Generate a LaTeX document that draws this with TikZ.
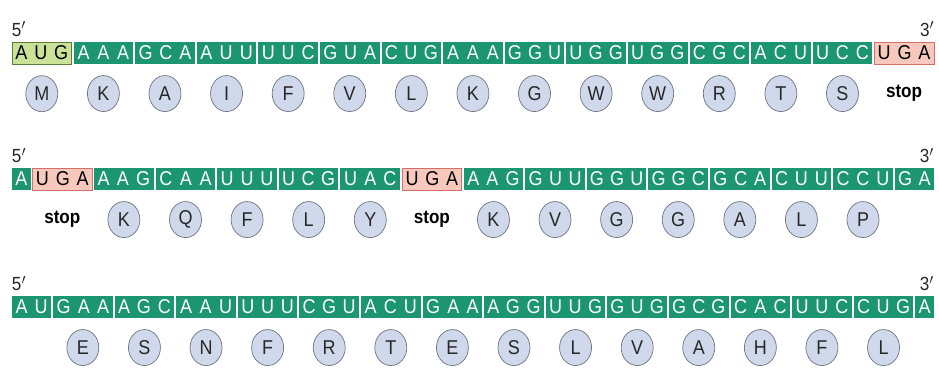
\documentclass[tikz,border=0pt]{standalone}
\usepackage{fontspec}
\setmainfont{Liberation Sans}[FakeStretch=0.9]
\usepackage{xcolor}
\usetikzlibrary{shapes.geometric,positioning}
\definecolor{codonGreen}{RGB}{28,150,112}
\definecolor{startGreen}{RGB}{202,225,152}
\definecolor{startEdge}{RGB}{96,124,58}
\definecolor{stopPink}{RGB}{246,201,188}
\definecolor{stopEdge}{RGB}{212,112,108}
\definecolor{aaBlue}{RGB}{207,217,235}
\definecolor{aaEdge}{RGB}{110,116,128}
\definecolor{aaText}{RGB}{40,40,40}

% one nucleotide inside a codon box
\newcommand\nt[1]{\hfil#1\hfil}
% pitch of one nucleotide and left edge of the strands
\newcommand\pitch{20.53}
\newcommand\xo{12}

\tikzset{
  greenbox/.style={fill=codonGreen, text=white, minimum height=22pt, inner sep=0pt,
    font=\fontsize{20}{20}\selectfont},
  startbox/.style={greenbox, fill=startGreen, draw=startEdge, line width=0.7pt, text=black},
  stopbox/.style={greenbox, fill=stopPink, draw=stopEdge, line width=0.7pt, text=black},
  amino/.style={ellipse, draw=aaEdge, line width=0.7pt, fill=aaBlue, text=aaText,
    minimum width=32pt, minimum height=36pt, inner sep=0pt,
    font=\fontsize{20}{20}\selectfont, below=11pt of #1},
  stoplabel/.style={font=\fontsize{19}{19}\selectfont\bfseries, text=black, inner sep=0pt},
  primelabel/.style={font=\fontsize{19}{19}\selectfont, text=black!85, inner sep=0pt}
}

\begin{document}
\begin{tikzpicture}[x=1pt,y=-1pt]
    \useasboundingbox (0,0) rectangle (939,385);

    % row 1: reading frame from AUG
    \foreach \s/\n/\bx/\seq [count=\i] in {
        0/3/startbox/{\nt A\nt U\nt G}, 3/3/greenbox/{\nt A\nt A\nt A},
        6/3/greenbox/{\nt G\nt C\nt A}, 9/3/greenbox/{\nt A\nt U\nt U},
        12/3/greenbox/{\nt U\nt U\nt C}, 15/3/greenbox/{\nt G\nt U\nt A},
        18/3/greenbox/{\nt C\nt U\nt G}, 21/3/greenbox/{\nt A\nt A\nt A},
        24/3/greenbox/{\nt G\nt G\nt U}, 27/3/greenbox/{\nt U\nt G\nt G},
        30/3/greenbox/{\nt U\nt G\nt G}, 33/3/greenbox/{\nt C\nt G\nt C},
        36/3/greenbox/{\nt A\nt C\nt U}, 39/3/greenbox/{\nt U\nt C\nt C},
        42/3/stopbox/{\nt U\nt G\nt A}} {
      \pgfmathsetmacro{\w}{\n*\pitch-2}
      \node[\bx, minimum width=\w pt] (r1b\i) at ({\xo+\s*\pitch+\w/2},53) {\hbox to \w pt{\seq}};
    }
    \foreach \i/\aa in {1/M,2/K,3/A,4/I,5/F,6/V,7/L,8/K,9/G,10/W,11/W,12/R,13/T,14/S}
      \node[amino=r1b\i] (r1a\i) {\aa};
    \node[stoplabel] (r1stop) at (r1a1 -| r1b15) {stop};
    \node[primelabel, anchor=south west] (r1five) at ([yshift=5pt]r1b1.north west) {5$'$};
    \node[primelabel, anchor=south east] (r1three) at ([yshift=5pt]r1b15.north east) {3$'$};

    % row 2: frame shifted by one
    \foreach \s/\n/\bx/\seq [count=\i] in {
        0/1/greenbox/{\nt A}, 1/3/stopbox/{\nt U\nt G\nt A},
        4/3/greenbox/{\nt A\nt A\nt G}, 7/3/greenbox/{\nt C\nt A\nt A},
        10/3/greenbox/{\nt U\nt U\nt U}, 13/3/greenbox/{\nt U\nt C\nt G},
        16/3/greenbox/{\nt U\nt A\nt C}, 19/3/stopbox/{\nt U\nt G\nt A},
        22/3/greenbox/{\nt A\nt A\nt G}, 25/3/greenbox/{\nt G\nt U\nt U},
        28/3/greenbox/{\nt G\nt G\nt U}, 31/3/greenbox/{\nt G\nt G\nt C},
        34/3/greenbox/{\nt G\nt C\nt A}, 37/3/greenbox/{\nt C\nt U\nt U},
        40/3/greenbox/{\nt C\nt C\nt U}, 43/2/greenbox/{\nt G\nt A}} {
      \pgfmathsetmacro{\w}{\n*\pitch-2}
      \node[\bx, minimum width=\w pt] (r2b\i) at ({\xo+\s*\pitch+\w/2},179) {\hbox to \w pt{\seq}};
    }
    \foreach \i/\aa in {3/K,4/Q,5/F,6/L,7/Y,9/K,10/V,11/G,12/G,13/A,14/L,15/P}
      \node[amino=r2b\i] (r2a\i) {\aa};
    \node[stoplabel] (r2stopa) at (r2a3 -| r2b2) {stop};
    \node[stoplabel] (r2stopb) at (r2a3 -| r2b8) {stop};
    \node[primelabel, anchor=south west] (r2five) at ([yshift=5pt]r2b1.north west) {5$'$};
    \node[primelabel, anchor=south east] (r2three) at ([yshift=5pt]r2b16.north east) {3$'$};

    % row 3: frame shifted by two
    \foreach \s/\n/\bx/\seq [count=\i] in {
        0/2/greenbox/{\nt A\nt U}, 2/3/greenbox/{\nt G\nt A\nt A},
        5/3/greenbox/{\nt A\nt G\nt C}, 8/3/greenbox/{\nt A\nt A\nt U},
        11/3/greenbox/{\nt U\nt U\nt U}, 14/3/greenbox/{\nt C\nt G\nt U},
        17/3/greenbox/{\nt A\nt C\nt U}, 20/3/greenbox/{\nt G\nt A\nt A},
        23/3/greenbox/{\nt A\nt G\nt G}, 26/3/greenbox/{\nt U\nt U\nt G},
        29/3/greenbox/{\nt G\nt U\nt G}, 32/3/greenbox/{\nt G\nt C\nt G},
        35/3/greenbox/{\nt C\nt A\nt C}, 38/3/greenbox/{\nt U\nt U\nt C},
        41/3/greenbox/{\nt C\nt U\nt G}, 44/1/greenbox/{\nt A}} {
      \pgfmathsetmacro{\w}{\n*\pitch-2}
      \node[\bx, minimum width=\w pt] (r3b\i) at ({\xo+\s*\pitch+\w/2},307) {\hbox to \w pt{\seq}};
    }
    \foreach \i/\aa in {2/E,3/S,4/N,5/F,6/R,7/T,8/E,9/S,10/L,11/V,12/A,13/H,14/F,15/L}
      \node[amino=r3b\i] (r3a\i) {\aa};
    \node[primelabel, anchor=south west] (r3five) at ([yshift=5pt]r3b1.north west) {5$'$};
    \node[primelabel, anchor=south east] (r3three) at ([yshift=5pt]r3b16.north east) {3$'$};
\end{tikzpicture}
\end{document}
